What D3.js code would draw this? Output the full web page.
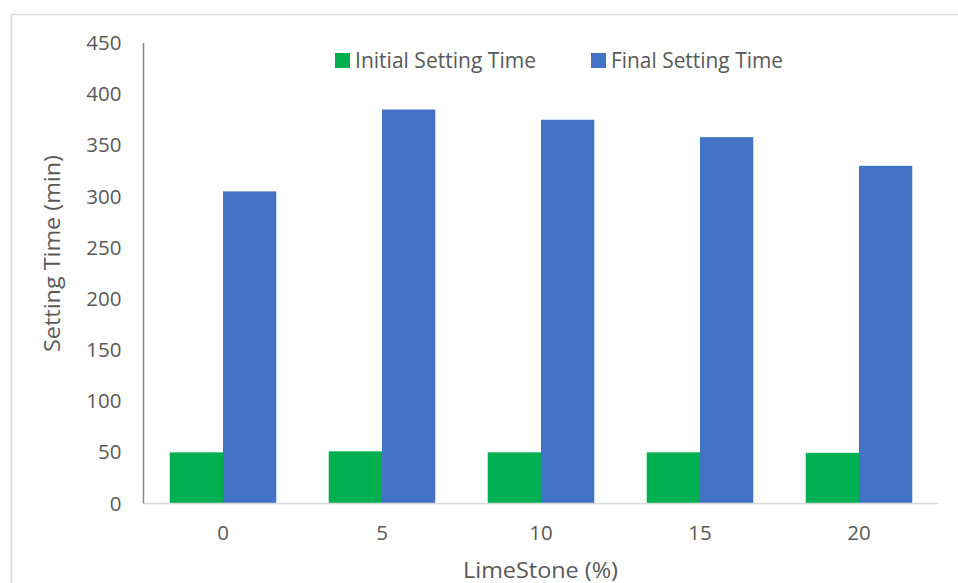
<!DOCTYPE html>
<html>
<head>
<meta charset="utf-8">
<script src="https://cdn.jsdelivr.net/npm/d3@7"></script>
<style>
  html, body { margin: 0; padding: 0; background: #fff; }
  svg { display: block; }
  text { font-family: "Open Sans", sans-serif; fill: #595959; }
</style>
</head>
<body>
<svg id="chart" width="958" height="583"></svg>
<script>
const categories = ["0", "5", "10", "15", "20"];
const seriesNames = ["Initial Setting Time", "Final Setting Time"];
const initialSetting = [50, 51, 50, 50, 49.5];
const finalSetting = [305, 385, 375, 358, 330];
const yTicks = [0, 50, 100, 150, 200, 250, 300, 350, 400, 450];
const colors = ["#00B050", "#4472C4"];

const FS = "20.5px";
const svg = d3.select("#chart");

// outer chart border
svg.append("rect")
  .attr("x", 11.5).attr("y", 14.5)
  .attr("width", 960).attr("height", 600)
  .attr("fill", "none").attr("stroke", "#d9d9d9").attr("stroke-width", 1.5);

const plot = { left: 143.5, right: 938.5, top: 43, bottom: 503.5 };

const x = d3.scaleBand().domain(categories).range([plot.left, plot.right]).paddingInner(0.33).paddingOuter(0.165);
const x1 = d3.scaleBand().domain(seriesNames).range([0, x.bandwidth()]);
const y = d3.scaleLinear().domain([0, 450]).range([plot.bottom, plot.top]);

const data = categories.map((c, i) => ({ cat: c, vals: [initialSetting[i], finalSetting[i]] }));

// bars
const g = svg.append("g");
data.forEach(d => {
  d.vals.forEach((v, j) => {
    g.append("rect")
      .attr("x", x(d.cat) + x1(seriesNames[j]))
      .attr("y", y(v))
      .attr("width", x1.bandwidth())
      .attr("height", y(0) - y(v))
      .attr("fill", colors[j]);
  });
});

// x axis line
svg.append("line")
  .attr("x1", plot.left).attr("x2", plot.right)
  .attr("y1", y(0)).attr("y2", y(0))
  .attr("stroke", "#d9d9d9").attr("stroke-width", 1.5);

// y axis line
svg.append("line")
  .attr("x1", plot.left).attr("x2", plot.left)
  .attr("y1", y(450)).attr("y2", y(0))
  .attr("stroke", "#868686").attr("stroke-width", 1.5);

// y tick labels
const yAxis = d3.axisLeft(y).tickValues(yTicks).tickSize(0).tickPadding(22);
const yg = svg.append("g").attr("transform", `translate(${plot.left},0)`).call(yAxis);
yg.select(".domain").remove();
yg.selectAll("text").style("font-size", FS).attr("fill", "#595959").style("font-family", "'Open Sans', sans-serif");

// x tick labels
const xAxis = d3.axisBottom(x).tickSize(0).tickPadding(22);
const xg = svg.append("g").attr("transform", `translate(0,${y(0)})`).call(xAxis);
xg.select(".domain").remove();
xg.selectAll("text").style("font-size", FS).attr("fill", "#595959").style("font-family", "'Open Sans', sans-serif");

// axis titles
svg.append("text")
  .attr("transform", "translate(60,253.5) rotate(-90)")
  .attr("text-anchor", "middle")
  .style("font-size", "21px")
  .attr("textLength", 197).attr("lengthAdjust", "spacingAndGlyphs")
  .text("Setting Time (min)");

svg.append("text")
  .attr("x", 540.5).attr("y", 578)
  .attr("text-anchor", "middle")
  .style("font-size", "21px")
  .attr("textLength", 155).attr("lengthAdjust", "spacingAndGlyphs")
  .text("LimeStone (%)");

// legend
const legendX = [335, 591];
const legendW = [181, 172];
seriesNames.forEach((n, j) => {
  svg.append("rect").attr("x", legendX[j]).attr("y", 53).attr("width", 15).attr("height", 15).attr("fill", colors[j]);
  svg.append("text").attr("x", legendX[j] + 20).attr("y", 67.5).style("font-size", "21px")
    .attr("textLength", legendW[j]).attr("lengthAdjust", "spacingAndGlyphs").text(n);
});
</script>
</body>
</html>
